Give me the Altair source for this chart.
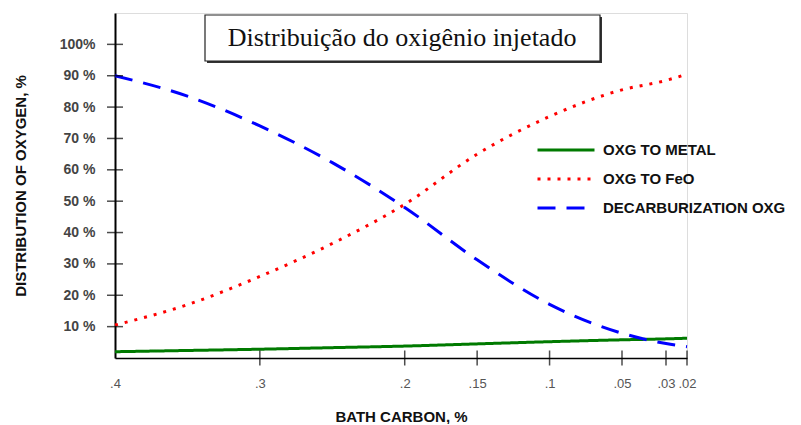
import altair as alt
import pandas as pd

# ---- data ----
carbon = [0.4, 0.35, 0.3, 0.25, 0.2, 0.15, 0.1, 0.05, 0.03, 0.02]
oxg_metal = [2.0, 2.4, 2.8, 3.3, 3.8, 4.5, 5.2, 5.8, 6.1, 6.3]
oxg_feo = [10.5, 17.0, 26.0, 36.5, 49.0, 65.0, 77.0, 85.5, 88.5, 90.5]
decarb = [90.0, 83.5, 74.0, 62.3, 48.0, 31.3, 17.1, 7.9, 4.6, 3.6]
series = ["OXG TO METAL", "OXG TO FeO", "DECARBURIZATION OXG"]
x_ticks = [0.4, 0.3, 0.2, 0.15, 0.1, 0.05, 0.03, 0.02]
y_ticks = [10, 20, 30, 40, 50, 60, 70, 80, 90, 100]
box_title = "Distribuição do oxigênio injetado"

rows = []
for name, vals in zip(series, [oxg_metal, oxg_feo, decarb]):
    for c, v in zip(carbon, vals):
        rows.append({"carbon": c, "value": v, "series": name})
df = pd.DataFrame(rows)

W, H = 572, 345
xscale = alt.Scale(domain=[0.4, 0.05, 0.03, 0.02], range=[0, 507, 551, 572], zero=False, nice=False)
yscale = alt.Scale(domain=[0, 110], nice=False, zero=False)

x_axis = alt.Axis(values=x_ticks, labelExpr="substring(format(datum.value, '.2~f'), 1)",
                  title="BATH CARBON, %", ticks=False, labelPadding=19, labelOverlap=False,
                  labelFlush=False,
                  labelFont="Liberation Sans", labelFontSize=13, labelColor="#555",
                  titleFont="Liberation Sans", titleFontSize=15, titleFontWeight="bold",
                  titleColor="#111", titlePadding=19, domainColor="black", domainWidth=1.5,
                  grid=False)
y_axis = alt.Axis(values=y_ticks, labelExpr="datum.value == 100 ? '100%' : datum.value + ' %'",
                  title="DISTRIBUTION OF OXYGEN, %", ticks=False, labelPadding=20,
                  labelOverlap=False, labelBound=False, labelFlush=False,
                  labelFont="Liberation Sans", labelFontSize=14, labelFontWeight="bold",
                  labelColor="#444", titleFont="Liberation Sans", titleFontSize=15,
                  titleFontWeight="bold", titleColor="#111", titlePadding=31,
                  domainColor="black", domainWidth=2, grid=False)

leg = alt.Legend(
    orient="none", legendX=421, legendY=130, title=None,
    symbolType="stroke", symbolSize=3249, symbolStrokeWidth=3, clipHeight=14,
    rowPadding=14, labelFont="Liberation Sans", labelFontWeight="bold",
    labelFontSize=15, labelColor="#111", labelOffset=7, padding=0, labelLimit=400,
)

lines = alt.Chart(df).mark_line(interpolate="monotone", strokeCap="butt", strokeWidth=3).encode(
    x=alt.X("carbon:Q", scale=xscale, axis=x_axis),
    y=alt.Y("value:Q", scale=yscale, axis=y_axis),
    color=alt.Color("series:N", scale=alt.Scale(domain=series, range=["#007a00", "#ff0000", "#0000ff"]), legend=leg),
    strokeDash=alt.StrokeDash("series:N", scale=alt.Scale(domain=series, range=[[1, 0], [3, 7], [18, 11]]), legend=leg),
    order=alt.Order("carbon:Q", sort="descending"),
)

xt = alt.Chart(pd.DataFrame({"carbon": x_ticks[1:]})).mark_tick(
    orient="vertical", size=15, thickness=1.5, color="black").encode(
    x=alt.X("carbon:Q", scale=xscale, axis=x_axis),
    y=alt.YDatum(0, type="quantitative", scale=yscale, axis=y_axis))

yt = alt.Chart(pd.DataFrame({"value": y_ticks})).mark_tick(
    orient="horizontal", size=16, thickness=1.5, color="black").encode(
    y=alt.Y("value:Q", scale=yscale, axis=y_axis),
    x=alt.XDatum(0.4, type="quantitative", scale=xscale, axis=x_axis))

tdf = pd.DataFrame({"t": [box_title]})
shadow = alt.Chart(tdf).mark_rect(fill="#333").encode(
    x=alt.value(92), x2=alt.value(487), y=alt.value(4), y2=alt.value(50))
box = alt.Chart(tdf).mark_rect(fill="white", stroke="#222", strokeWidth=1.2).encode(
    x=alt.value(90), x2=alt.value(485), y=alt.value(2), y2=alt.value(48))
txt = alt.Chart(tdf).mark_text(font="Liberation Serif", fontSize=26, color="#111").encode(
    text="t:N", x=alt.value(287), y=alt.value(25))

chart = alt.layer(shadow, box, txt, lines, xt, yt).properties(
    width=W, height=H, padding={"left": 5, "top": 5, "right": 0, "bottom": 0}
).configure_view(stroke=None).configure(background="white")

chart.save("out.html", embed_options={"renderer": "svg", "actions": False})
